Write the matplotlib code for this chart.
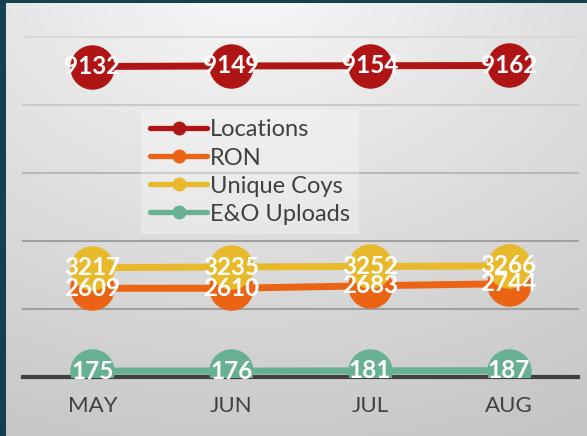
import numpy as np
import matplotlib
matplotlib.use("Agg")
import matplotlib.pyplot as plt
from matplotlib.patches import Rectangle

months = ["MAY", "JUN", "JUL", "AUG"]
locations = [9132, 9149, 9154, 9162]
ron = [2609, 2610, 2683, 2744]
unique_coys = [3217, 3235, 3252, 3266]
eo_uploads = [175, 176, 181, 187]
series_names = ["Locations", "RON", "Unique Coys", "E&O Uploads"]
series_values = [locations, ron, unique_coys, eo_uploads]
series_colors = ["#b01515", "#eb6413", "#e8b92a", "#68b092"]
yticks = [0, 2000, 4000, 6000, 8000, 10000]
grid_colors = ["#404040", "#a0a0a0", "#a0a0a0", "#b8b8b8", "#cacaca", "#d8d8d8"]

plt.rcParams['font.family'] = ['Lato', 'DejaVu Sans']

W, H = 587, 436
fig = plt.figure(figsize=(W / 100, H / 100), dpi=100)

# background gradient
bg = fig.add_axes([0, 0, 1, 1], zorder=0)
yy, xx = np.mgrid[0:H, 0:W]
d = np.sqrt(((xx - 0.42 * W) / W) ** 2 + ((yy + 0.05 * H) / H) ** 2)
val = np.clip(248 - 44 * d, 196, 248) / 255.0
img = np.dstack([val, val, val])
bg.imshow(img, aspect='auto', extent=[0, W, H, 0], interpolation='bilinear')
bg.set_xlim(0, W)
bg.set_ylim(H, 0)
bg.axis('off')
bg.add_patch(Rectangle((0, 0), 6, H, color="#14414f", lw=0))
bg.add_patch(Rectangle((0, 0), W, 3, color="#14414f", lw=0))

ax = fig.add_axes([23 / W, 59 / H, 555 / W, 340 / H], zorder=1)
ax.patch.set_alpha(0)
for s in ax.spines.values():
    s.set_visible(False)
ax.set_ylim(0, 10000)
ax.set_xlim(-0.5, len(months) - 0.5)
for yt, gc in zip(yticks, grid_colors):
    ax.axhline(yt, color=gc, lw=3 if yt == 0 else 1.5, zorder=1, clip_on=False)

x = np.arange(len(months))
for i, (name, vals, col) in enumerate(zip(series_names, series_values, series_colors)):
    ax.plot(x, vals, color=col, lw=5, marker='o', markersize=31, zorder=3 + i,
            label=name, solid_capstyle='butt')
for vals in series_values:
    for xi, v in zip(x, vals):
        ax.text(xi, v, str(v), color='white', fontsize=17.5, fontweight='bold',
                ha='center', va='center', zorder=20)

ax.set_xticks(x)
ax.set_xticklabels(months, fontsize=16, color='#404040')
ax.set_yticks([])
ax.tick_params(axis='x', length=0, pad=14)

handles = [plt.Line2D([0], [0], color=c, lw=3.8, marker='o', markersize=9,
                      solid_capstyle='round') for c in series_colors]
leg = fig.legend(handles, series_names, loc='upper left',
                 bbox_to_anchor=(141 / W, 1 - 110 / H), fontsize=17,
                 labelcolor='#404040', frameon=True, handlelength=2.4,
                 handletextpad=0.12, labelspacing=0.3, borderpad=0.4,
                 borderaxespad=0, fancybox=False)
leg.get_frame().set_facecolor('white')
leg.get_frame().set_alpha(0.3)
leg.get_frame().set_edgecolor('none')
leg.set_zorder(30)

fig.savefig("out.png", dpi=100)
